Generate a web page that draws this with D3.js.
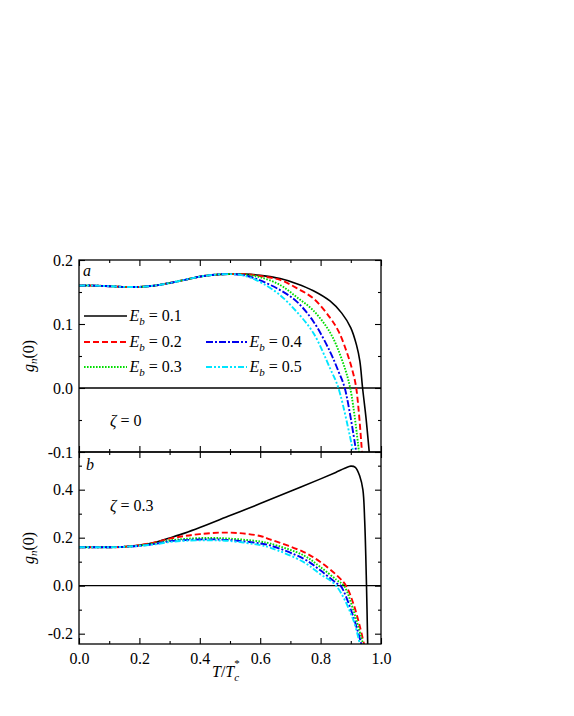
<!DOCTYPE html>
<html><head><meta charset="utf-8">
<script src="https://cdn.jsdelivr.net/npm/d3@7"></script>
<style>
body{margin:0;background:#fff}
svg{display:block}
</style>
</head><body>
<svg id="chart" width="574" height="716"></svg>
<script>
// ---------- DATA ----------
const seriesLabels = ["0.1", "0.2", "0.3", "0.4", "0.5"];

// Panel a (zeta = 0)
const a_Eb01_T = [0,0.05,0.1,0.15,0.2,0.25,0.3,0.35,0.4,0.45,0.5,0.55,0.6,0.666,0.721,0.776,0.831,0.87,0.9,0.919,0.93,0.939,0.95,0.961];
const a_Eb01_G = [0.160,0.160,0.159,0.158,0.158,0.160,0.164,0.169,0.174,0.177,0.178,0.178,0.176,0.171,0.163,0.152,0.136,0.117,0.094,0.067,0.042,0.0,-0.045,-0.1];
const a_Eb02_T = [0,0.05,0.1,0.15,0.2,0.25,0.3,0.35,0.4,0.45,0.5,0.55,0.6,0.666,0.721,0.776,0.831,0.86,0.886,0.905,0.918,0.937];
const a_Eb02_G = [0.160,0.160,0.159,0.158,0.158,0.160,0.164,0.169,0.174,0.177,0.178,0.178,0.175,0.169,0.156,0.140,0.110,0.088,0.057,0.028,0.0,-0.1];
const a_Eb03_T = [0,0.05,0.1,0.15,0.2,0.25,0.3,0.35,0.4,0.45,0.5,0.55,0.6,0.666,0.721,0.776,0.831,0.87,0.898,0.927];
const a_Eb03_G = [0.160,0.160,0.159,0.158,0.158,0.160,0.164,0.169,0.174,0.177,0.178,0.177,0.173,0.161,0.142,0.121,0.087,0.045,0.0,-0.1];
const a_Eb04_T = [0,0.05,0.1,0.15,0.2,0.25,0.3,0.35,0.4,0.45,0.5,0.55,0.6,0.666,0.721,0.776,0.831,0.86,0.88,0.918];
const a_Eb04_G = [0.160,0.160,0.159,0.158,0.158,0.160,0.164,0.169,0.174,0.177,0.178,0.176,0.168,0.153,0.135,0.104,0.057,0.025,0.0,-0.1];
const a_Eb05_T = [0,0.05,0.1,0.15,0.2,0.25,0.3,0.35,0.4,0.45,0.5,0.533,0.58,0.61,0.666,0.721,0.776,0.831,0.859,0.908];
const a_Eb05_G = [0.160,0.160,0.159,0.158,0.158,0.160,0.164,0.169,0.174,0.177,0.178,0.177,0.170,0.163,0.145,0.119,0.086,0.031,0.0,-0.1];

// Panel b (zeta = 0.3)
const b_Eb01_T = [0,0.05,0.1,0.15,0.2,0.25,0.3,0.35,0.4,0.5,0.6,0.7,0.8,0.85,0.88,0.9,0.915,0.93,0.94,0.946,0.952,0.956];
const b_Eb01_G = [0.160,0.160,0.160,0.162,0.168,0.180,0.199,0.219,0.242,0.292,0.342,0.393,0.445,0.472,0.489,0.498,0.493,0.455,0.400,0.270,0.0,-0.25];
const b_Eb02_T = [0,0.05,0.1,0.15,0.2,0.25,0.3,0.35,0.4,0.467,0.53,0.6,0.632,0.743,0.798,0.853,0.884,0.908,0.93,0.945];
const b_Eb02_G = [0.160,0.160,0.160,0.162,0.169,0.180,0.196,0.207,0.215,0.221,0.219,0.207,0.193,0.141,0.100,0.044,0.0,-0.073,-0.17,-0.25];
const b_Eb03_T = [0,0.05,0.1,0.15,0.2,0.25,0.3,0.35,0.434,0.5,0.6,0.632,0.743,0.798,0.853,0.877,0.908,0.942];
const b_Eb03_G = [0.160,0.160,0.160,0.162,0.167,0.176,0.188,0.195,0.199,0.196,0.184,0.176,0.127,0.079,0.024,0.0,-0.10,-0.25];
const b_Eb04_T = [0,0.05,0.1,0.15,0.2,0.25,0.3,0.35,0.434,0.5,0.6,0.632,0.743,0.798,0.853,0.866,0.908,0.936];
const b_Eb04_G = [0.160,0.160,0.160,0.162,0.166,0.174,0.185,0.190,0.193,0.190,0.176,0.168,0.113,0.065,0.010,0.0,-0.128,-0.25];
const b_Eb05_T = [0,0.05,0.1,0.15,0.2,0.25,0.3,0.35,0.434,0.5,0.6,0.632,0.743,0.798,0.851,0.908,0.931];
const b_Eb05_G = [0.160,0.160,0.160,0.162,0.166,0.172,0.182,0.187,0.189,0.186,0.169,0.159,0.099,0.049,0.0,-0.142,-0.25];

// Ticks
const xMajorTicks = [0, 0.2, 0.4, 0.6, 0.8, 1.0];
const xMajorLabels = ["0.0", "0.2", "0.4", "0.6", "0.8", "1.0"];
const xMinorTicks = [0.1, 0.3, 0.5, 0.7, 0.9];
const aMajorTicks = [-0.1, 0, 0.1, 0.2];
const aMajorLabels = ["-0.1", "0.0", "0.1", "0.2"];
const aMinorTicks = [-0.05, 0.05, 0.15];
const bMajorTicks = [-0.2, 0, 0.2, 0.4];
const bMajorLabels = ["-0.2", "0.0", "0.2", "0.4"];
const bMinorTicks = [-0.1, 0.1, 0.3, 0.5];

// ---------- STYLE ----------
const FONT = "Liberation Serif";
const colors = ["#000000", "#ff0000", "#00dd00", "#0000ee", "#00e5ff"];
const dashes = [null, "6,3", "1.6,1.4", "7,2,2,2", "6,2,2,2,2,2"];

// ---------- DRAW ----------
const svg = d3.select("#chart");
const L = 79, R = 381, aTop = 260, mid = 452, bBot = 644;
const x = d3.scaleLinear().domain([0, 1]).range([L, R]);
const yA = d3.scaleLinear().domain([-0.1, 0.2]).range([mid, aTop]);
const yB = d3.scaleLinear().domain([-0.243, 0.557]).range([bBot, mid]);

const defs = svg.append("defs");
defs.append("clipPath").attr("id", "clipA").append("rect")
  .attr("x", L).attr("y", aTop).attr("width", R - L).attr("height", mid - aTop);
defs.append("clipPath").attr("id", "clipB").append("rect")
  .attr("x", L).attr("y", mid).attr("width", R - L).attr("height", bBot - mid);

const seriesA = [[a_Eb01_T,a_Eb01_G],[a_Eb02_T,a_Eb02_G],[a_Eb03_T,a_Eb03_G],[a_Eb04_T,a_Eb04_G],[a_Eb05_T,a_Eb05_G]];
const seriesB = [[b_Eb01_T,b_Eb01_G],[b_Eb02_T,b_Eb02_G],[b_Eb03_T,b_Eb03_G],[b_Eb04_T,b_Eb04_G],[b_Eb05_T,b_Eb05_G]];

function drawPanel(series, y, clip) {
  const g = svg.append("g").attr("clip-path", `url(#${clip})`);
  g.append("line").attr("x1", L).attr("x2", R).attr("y1", y(0)).attr("y2", y(0))
    .attr("stroke", "#000").attr("stroke-width", 1.3);
  const line = d3.line().x(d => x(d[0])).y(d => y(d[1])).curve(d3.curveCatmullRom.alpha(0.5));
  series.forEach((s, i) => {
    const pts = s[0].map((t, k) => [t, s[1][k]]);
    g.append("path").attr("d", line(pts)).attr("fill", "none")
      .attr("stroke", colors[i]).attr("stroke-width", i === 0 ? 1.6 : 1.9)
      .attr("stroke-dasharray", dashes[i]);
  });
}
drawPanel(seriesA, yA, "clipA");
drawPanel(seriesB, yB, "clipB");

function styleAxis(sel) {
  sel.select(".domain").remove();
  sel.attr("font-family", null).attr("font-size", null);
  sel.selectAll("line").attr("stroke", "#000").attr("stroke-width", 1.1);
  sel.selectAll("text").style("font-family", FONT).style("font-size", "16px").attr("fill", "#000");
}
function axes(y, yMaj, yLab, yMin, top, bot, showX) {
  svg.append("g").attr("transform", `translate(${L},0)`)
    .call(d3.axisLeft(y).tickValues(yMaj).tickFormat((d, i) => yLab[i]).tickSize(-6).tickPadding(6).tickSizeOuter(0)).call(styleAxis);
  svg.append("g").attr("transform", `translate(${L},0)`)
    .call(d3.axisLeft(y).tickValues(yMin).tickFormat("").tickSize(-3).tickSizeOuter(0)).call(styleAxis);
  svg.append("g").attr("transform", `translate(${R},0)`)
    .call(d3.axisRight(y).tickValues(yMaj).tickFormat("").tickSize(-6).tickSizeOuter(0)).call(styleAxis);
  svg.append("g").attr("transform", `translate(${R},0)`)
    .call(d3.axisRight(y).tickValues(yMin).tickFormat("").tickSize(-3).tickSizeOuter(0)).call(styleAxis);
  svg.append("g").attr("transform", `translate(0,${top})`)
    .call(d3.axisTop(x).tickValues(xMajorTicks).tickFormat("").tickSize(-6).tickSizeOuter(0)).call(styleAxis);
  svg.append("g").attr("transform", `translate(0,${top})`)
    .call(d3.axisTop(x).tickValues(xMinorTicks).tickFormat("").tickSize(-3).tickSizeOuter(0)).call(styleAxis);
  svg.append("g").attr("transform", `translate(0,${bot})`)
    .call(d3.axisBottom(x).tickValues(xMajorTicks).tickFormat((d, i) => showX ? xMajorLabels[i] : "").tickSize(-6).tickPadding(9).tickSizeOuter(0)).call(styleAxis);
  svg.append("g").attr("transform", `translate(0,${bot})`)
    .call(d3.axisBottom(x).tickValues(xMinorTicks).tickFormat("").tickSize(-3).tickSizeOuter(0)).call(styleAxis);
  svg.append("rect").attr("x", L).attr("y", top).attr("width", R - L).attr("height", bot - top)
    .attr("fill", "none").attr("stroke", "#000").attr("stroke-width", 1.3);
}
axes(yA, aMajorTicks, aMajorLabels, aMinorTicks, aTop, mid, false);
axes(yB, bMajorTicks, bMajorLabels, bMinorTicks, mid, bBot, true);

function txt(xp, yp, size) {
  return svg.append("text").attr("x", xp).attr("y", yp)
    .style("font-family", FONT).style("font-size", size + "px");
}

// Panel letters and zeta labels
txt(83, 276, 16).style("font-style", "italic").text("a");
txt(86, 470, 16).style("font-style", "italic").text("b");
function zetaLabel(xp, yp, val) {
  const t = txt(xp, yp, 16);
  t.append("tspan").style("font-style", "italic").text("ζ");
  t.append("tspan").text(" = " + val);
}
zetaLabel(110, 426, "0");
zetaLabel(110, 511, "0.3");

// Legend
const legendPos = [[84, 127, 316], [84, 127, 342], [84, 127, 367], [206, 247, 342], [206, 247, 367]];
legendPos.forEach((p, i) => {
  svg.append("line").attr("x1", p[0]).attr("x2", p[1]).attr("y1", p[2]).attr("y2", p[2])
    .attr("stroke", colors[i]).attr("stroke-width", i === 0 ? 1.6 : 1.9)
    .attr("stroke-dasharray", dashes[i]);
  const t = txt(p[1] + 2.5, p[2] + 5, 16);
  t.append("tspan").style("font-style", "italic").text("E");
  t.append("tspan").style("font-style", "italic").style("font-size", "11px").attr("dy", 4).text("b");
  t.append("tspan").attr("dy", -4).text(" = " + seriesLabels[i]);
});

// Y axis labels
function yLabel(cy) {
  const t = svg.append("text").attr("transform", `translate(34,${cy}) rotate(-90)`)
    .attr("text-anchor", "middle").style("font-family", FONT).style("font-size", "16px");
  t.append("tspan").style("font-style", "italic").text("g");
  t.append("tspan").style("font-style", "italic").style("font-size", "11px").attr("dy", 3).text("n");
  t.append("tspan").attr("dy", -3).text("(0)");
}
yLabel((aTop + mid) / 2);
yLabel((mid + bBot) / 2);

// X axis label
const xl = txt(212, 677, 16);
xl.append("tspan").style("font-style", "italic").text("T");
xl.append("tspan").text("/");
xl.append("tspan").style("font-style", "italic").text("T");
xl.append("tspan").style("font-style", "italic").style("font-size", "11px").attr("dy", 4).text("c");
xl.append("tspan").style("font-size", "11px").attr("dx", -5).attr("dy", -14).text("*");
</script>
</body></html>
